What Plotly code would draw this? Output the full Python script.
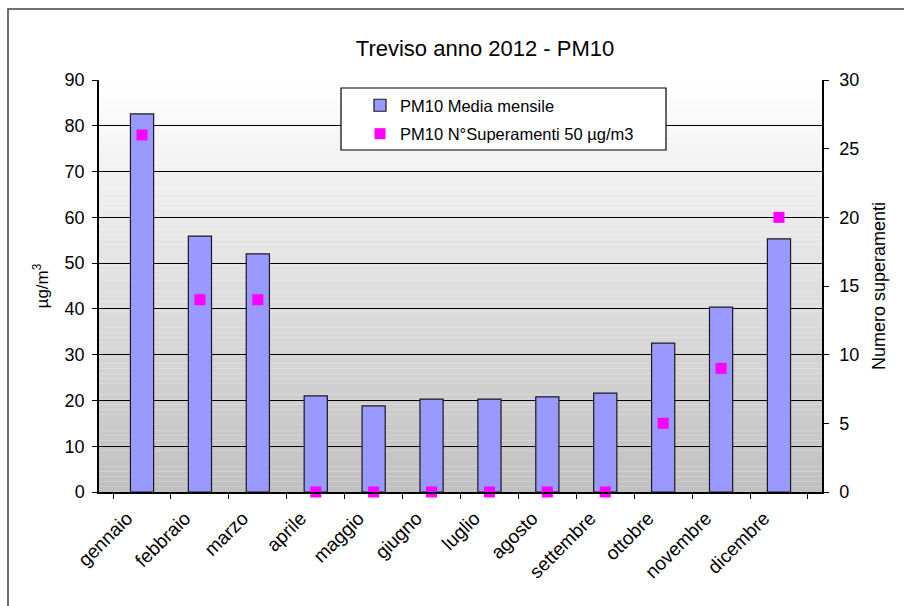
import plotly.graph_objects as go

# Monthly PM10 data, Treviso 2012
mesi = ["gennaio", "febbraio", "marzo", "aprile", "maggio", "giugno",
        "luglio", "agosto", "settembre", "ottobre", "novembre", "dicembre"]
media_mensile = [82.6, 55.9, 52.0, 21.0, 18.8, 20.3, 20.3, 20.8, 21.6, 32.5, 40.4, 55.3]
superamenti = [26, 14, 14, 0, 0, 0, 0, 0, 0, 5, 9, 20]

FONT = "Liberation Sans, Arial, sans-serif"

fig = go.Figure()

fig.add_trace(go.Bar(
    x=mesi, y=media_mensile, name="PM10 Media mensile",
    marker=dict(color="#9999FF", line=dict(color="#1a1a1a", width=1.2)),
    width=0.4, legendgroup="a",
))
fig.add_trace(go.Scatter(
    x=mesi, y=superamenti, name="PM10 N°Superamenti 50 µg/m3",
    mode="markers", yaxis="y2", cliponaxis=False,
    marker=dict(symbol="square", color="#FF00FF", size=11, line=dict(width=0)),
    legendgroup="b",
))

# Vertical white-to-grey gradient behind the plot area
shapes = []
n = 80
for i in range(n):
    t = (i + 0.5) / n
    g = int(round(255 - (255 - 192) * t))
    shapes.append(dict(
        type="rect", xref="x domain", yref="y domain",
        x0=0, x1=1, y0=1 - (i + 1) / n, y1=1 - i / n,
        fillcolor=f"rgb({g},{g},{g})", line=dict(width=0), layer="below",
    ))

# Legend frame
shapes.append(dict(type="rect", xref="paper", yref="paper",
                   x0=(341 - 99) / 723, x1=(666 - 99) / 723,
                   y0=(492 - 150) / 412, y1=(492 - 88) / 412,
                   fillcolor="white", line=dict(color="black", width=1.2), layer="above"))
# Outer chart frame
shapes.append(dict(type="rect", xref="paper", yref="paper",
                   x0=(8 - 99) / 723, x1=1.3, y0=-0.3, y1=(492 - 9) / 412,
                   line=dict(color="#404040", width=1.5), fillcolor="rgba(0,0,0,0)"))

fig.update_layout(
    width=904, height=606,
    margin=dict(l=99, r=82, t=80, b=114),
    paper_bgcolor="white", plot_bgcolor="rgba(0,0,0,0)",
    font=dict(family=FONT, size=17, color="black"),
    title=dict(text="Treviso anno 2012 - PM10", x=485 / 904, xanchor="center",
               y=1 - 48 / 606, yanchor="middle", font=dict(size=22, family=FONT)),
    showlegend=True,
    legend=dict(x=(360 - 99) / 723, y=(492 - 88) / 412, xanchor="left", yanchor="top",
                bgcolor="rgba(0,0,0,0)", borderwidth=0, font=dict(size=16.5, family=FONT),
                tracegroupgap=4, itemwidth=30),
    bargap=0.6,
    shapes=shapes,
    xaxis=dict(
        type="category", tickangle=-45, showgrid=False, showline=True,
        linecolor="black", linewidth=1.5, ticks="outside", ticklen=5,
        tickcolor="black", tickson="boundaries", tickfont=dict(size=19),
        ticklabelshift=-15, ticklabelstandoff=6, zeroline=False,
    ),
    yaxis=dict(
        range=[0, 90], dtick=10, showgrid=True, gridcolor="black", gridwidth=1,
        showline=True, linecolor="black", linewidth=1.5, ticks="outside",
        ticklen=5, tickcolor="black", zeroline=False, tickfont=dict(size=18),
        ticklabelstandoff=4,
        title=dict(text="µg/m<sup>3</sup>", font=dict(size=17), standoff=12),
    ),
    yaxis2=dict(
        range=[0, 30], dtick=5, overlaying="y", side="right", showgrid=False,
        showline=True, linecolor="black", linewidth=1.5, ticks="outside",
        ticklen=5, tickcolor="black", zeroline=False, tickfont=dict(size=18),
        ticklabelstandoff=7,
        title=dict(text="Numero superamenti", font=dict(size=18), standoff=14),
    ),
)

fig.write_html("out.html")
